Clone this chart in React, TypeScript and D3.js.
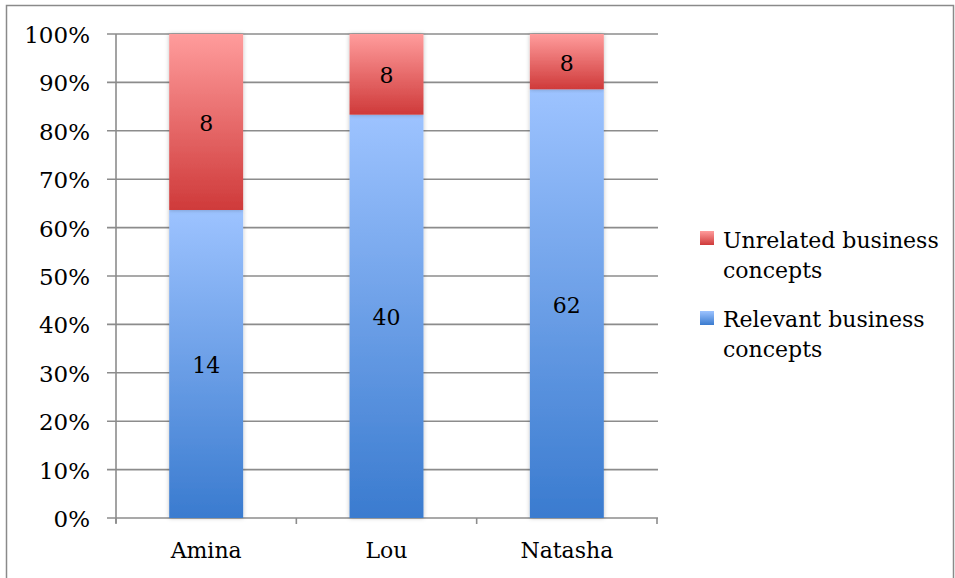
import React from "react";
import * as d3 from "d3";

const categories = ["Amina", "Lou", "Natasha"];
const relevant = [14, 40, 62];
const unrelated = [8, 8, 8];
const seriesNames = ["Relevant business concepts", "Unrelated business concepts"];
const yTicks = [0, 0.1, 0.2, 0.3, 0.4, 0.5, 0.6, 0.7, 0.8, 0.9, 1.0];

const W = 955;
const H = 578;
const FONT = "'DejaVu Serif', serif";
const FS = 22;

export default function App() {
  const left = 116, right = 657, top = 34, bottom = 518;
  const x = d3.scaleBand<string>().domain(categories).range([left, right]).paddingInner(0.59).paddingOuter(0.295);
  const y = d3.scaleLinear().domain([0, 1]).range([bottom, top]);
  const fmt = d3.format(".0%");

  const rows = categories.map((c, i) => ({ cat: c, rel: relevant[i], unr: unrelated[i] }));
  const stack = d3.stack<any>().keys(["rel", "unr"]).offset(d3.stackOffsetExpand);
  const layers = stack(rows);
  const grads = ["gBlue", "gRed"];

  return (
    <svg width={W} height={H} style={{ position: "absolute", left: 0, top: 0, background: "#fff" }}>
      <defs>
        <linearGradient id="gBlue" x1="0" y1="0" x2="0" y2="1">
          <stop offset="0" stopColor="#9dc3ff" />
          <stop offset="1" stopColor="#3a7bcf" />
        </linearGradient>
        <linearGradient id="gRed" x1="0" y1="0" x2="0" y2="1">
          <stop offset="0" stopColor="#ff9c9c" />
          <stop offset="1" stopColor="#cf3a3a" />
        </linearGradient>
        <filter id="sh" x="-20%" y="-5%" width="140%" height="110%">
          <feDropShadow dx="0" dy="0" stdDeviation="2" floodColor="#000" floodOpacity="0.25" />
        </filter>
      </defs>
      <rect x={6.5} y={5.5} width={947} height={620} fill="none" stroke="#8a8a8a" strokeWidth={1.5} />
      {yTicks.map((t) => (
        <line key={t} x1={107} x2={right + 1} y1={y(t)} y2={y(t)} stroke="#8c8c8c" strokeWidth={1.6} />
      ))}
      <line x1={left} x2={left} y1={top} y2={bottom + 5} stroke="#8c8c8c" strokeWidth={1.6} />
      {[0, 1, 2, 3].map((i) => {
        const xx = left + ((right - left) / 3) * i;
        return <line key={i} x1={xx} x2={xx} y1={bottom} y2={bottom + 6} stroke="#8c8c8c" strokeWidth={1.6} />;
      })}
      {layers.map((layer, li) =>
        layer.map((d, i) => (
          <rect
            key={li + "-" + i}
            x={x(categories[i])!}
            y={y(d[1])}
            width={x.bandwidth()}
            height={y(d[0]) - y(d[1])}
            fill={`url(#${grads[li]})`}
            filter="url(#sh)"
          />
        ))
      )}
      {layers.map((layer, li) =>
        layer.map((d, i) => (
          <text
            key={"l" + li + "-" + i}
            x={x(categories[i])! + x.bandwidth() / 2}
            y={(y(d[0]) + y(d[1])) / 2 + 9}
            textAnchor="middle"
            fontFamily={FONT}
            fontSize={FS}
            fill="#000"
          >
            {li === 0 ? relevant[i] : unrelated[i]}
          </text>
        ))
      )}
      {yTicks.map((t) => (
        <text key={"t" + t} x={90} y={y(t) + 9} textAnchor="end" fontFamily={FONT} fontSize={23} fill="#000">
          {fmt(t)}
        </text>
      ))}
      {categories.map((c) => (
        <text key={c} x={x(c)! + x.bandwidth() / 2} y={558} textAnchor="middle" fontFamily={FONT} fontSize={FS} fill="#000">
          {c}
        </text>
      ))}
      {[
        { name: seriesNames[1], grad: "gRed", y0: 231, base: 248 },
        { name: seriesNames[0], grad: "gBlue", y0: 311, base: 327 },
      ].map((l) => {
        const words = l.name.split(" ");
        const line1 = words.slice(0, 2).join(" ");
        const line2 = words.slice(2).join(" ");
        return (
          <g key={l.name}>
            <rect x={700} y={l.y0} width={14} height={14} fill={`url(#${l.grad})`} />
            <text x={723} y={l.base} fontFamily={FONT} fontSize={FS} fill="#000">
              {line1}
            </text>
            <text x={723} y={l.base + 30} fontFamily={FONT} fontSize={FS} fill="#000">
              {line2}
            </text>
          </g>
        );
      })}
    </svg>
  );
}
